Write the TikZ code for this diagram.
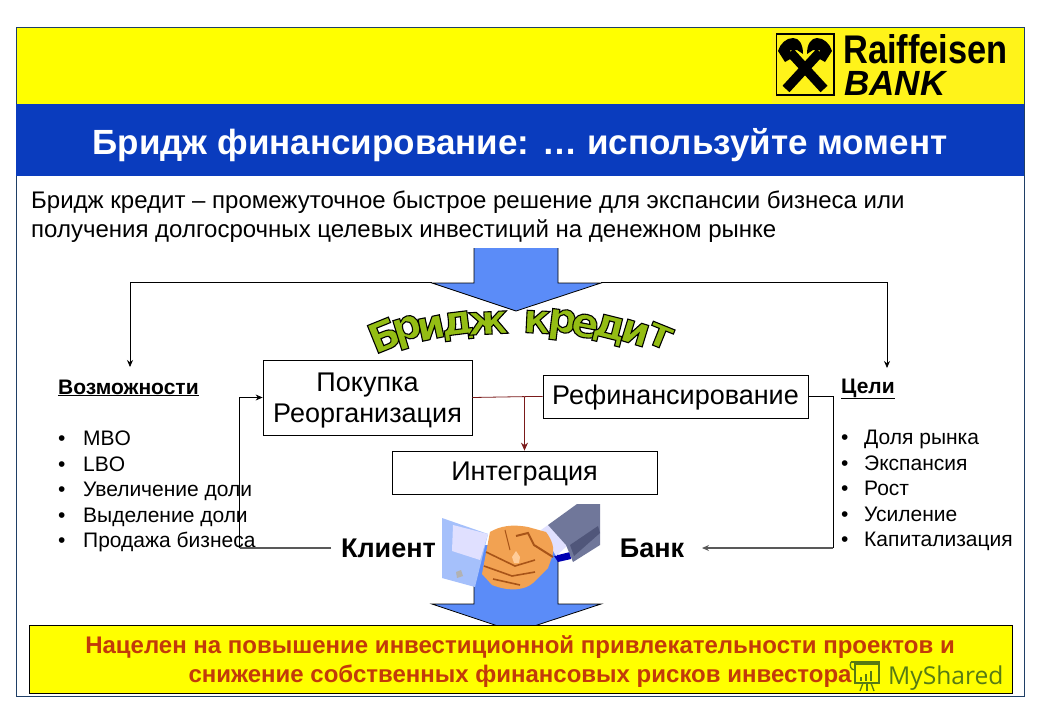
\documentclass[tikz,border=0pt]{standalone}
\usepackage{fontspec}
\usepackage{graphicx}
\setmainfont{Liberation Sans}
\newfontfamily\wordfont{DejaVu Sans}[BoldFont={DejaVu Sans Bold}]
\newfontfamily\markfont{Open Sans}
\usetikzlibrary{arrows.meta,calc}
\definecolor{brYellow}{HTML}{FFFF00}
\definecolor{brLogo}{HTML}{FFF31A}
\definecolor{brBlue}{HTML}{0A3CBE}
\definecolor{brArrow}{HTML}{5B8CF8}
\definecolor{brFrame}{HTML}{1F3F66}
\definecolor{brRed}{HTML}{7A1A1A}
\definecolor{brMsg}{HTML}{C23A0A}
\definecolor{brMark}{HTML}{567A14}
\definecolor{brOrange}{HTML}{F2A252}
\definecolor{brBrown}{HTML}{A85418}
\definecolor{brSleeve}{HTML}{70779A}
\definecolor{brSleeveDk}{HTML}{50567A}
\newcommand{\fsz}[1]{\fontsize{#1}{#1}\selectfont}
\newcommand{\outl}[1]{\special{pdf:code q 2 Tr 1.1 w 0 0 0 RG 0.58 0.74 0.08 rg}#1\special{pdf:code Q}}
\tikzset{
  x=1pt,y=-1pt,
  txt/.style={anchor=base west,inner sep=0pt,font=\fsz{21}},
  boxnode/.style={draw=black,line width=0.8pt,fill=white,inner sep=0pt,align=center,font=\fsz{27}},
  msg/.style={anchor=base,inner sep=0pt,font=\fsz{24}\bfseries,text=brMsg},
  wl/.style={inner sep=0pt,font=\fsz{41}\wordfont\bfseries},
  conn/.style={line width=0.8pt,draw=black},
  tip/.style={-{Stealth[length=7pt,width=6pt]}},
  flowarrow/.style={fill=brArrow},
}
\begin{document}
\begin{tikzpicture}
\useasboundingbox (0,0) rectangle (1040,720);
\fill[white] (0,0) rectangle (1040,720);
% slide
\draw[brFrame,line width=0.8pt] (16,27) rectangle (1024,696);
\fill[brYellow] (17,28) rectangle (1024,104);
\fill[brBlue] (16,104) rectangle (1024,176);
\node[anchor=base,inner sep=0pt,font=\fsz{35}\bfseries,text=white] (title) at (520,154) {Бридж финансирование:  … используйте момент};
% logo
\fill[brLogo] (772,30) rectangle (1020,103);
\draw[black,line width=1.2pt] (776.5,34) rectangle (834,95);
\draw[black,line width=9.5pt] (786,89) -- (820,52);
\draw[black,line width=9.5pt] (824,89) -- (790,52);
\fill[black] (778,51) .. controls (780,44) and (786,38) .. (793,38) .. controls (799,38) and (803,44) .. (803,54) -- (797,50) -- (790,50) -- (792,58) -- (785,62) -- cycle;
\fill[black] (832,51) .. controls (830,44) and (824,38) .. (817,38) .. controls (811,38) and (807,44) .. (807,54) -- (813,50) -- (820,50) -- (818,58) -- (825,62) -- cycle;
\node[anchor=base west,inner sep=0pt,font=\fsz{40}\bfseries] (rf) at (843,63) {\scalebox{0.86}[1]{Raiffeisen}};
\node[anchor=base west,inner sep=0pt,font=\fsz{35}\bfseries\itshape] (bk) at (844,95) {BANK};
% intro
\node[txt,font=\fsz{24}] (intro1) at (31,208) {Бридж кредит – промежуточное быстрое решение для экспансии бизнеса или};
\node[txt,font=\fsz{24}] (intro2) at (31,237) {получения долгосрочных целевых инвестиций на денежном рынке};
% top arrow
\coordinate (tl) at (432,282.5);
\coordinate (tr) at (601,282.5);
\fill[flowarrow] (474,248) -- (558,248) -- (558,283) -- (601,283) -- (516,311) -- (432,283) -- (474,283) -- cycle;
\draw[conn] (474,248) -- (474,283) -- (432,283) -- (516,311) -- (601,283) -- (558,283) -- (558,248);
% left/right targets
\coordinate (lt) at (130,367);
\coordinate (rt) at (887,368);
\draw[conn,tip] (tl) -| (lt);
\draw[conn,tip] (tr) -| (rt);
% curved word
\node[wl,rotate=22] (w1) at (384,335) {\outl{Б}};
\node[wl,rotate=17] (w2) at (408,332) {\outl{р}};
\node[wl,rotate=12] (w3) at (431,328) {\outl{и}};
\node[wl,rotate=7] (w4) at (458,326) {\outl{д}};
\node[wl,rotate=3] (w5) at (488,323) {\outl{ж}};
\node[wl,rotate=-3] (w6) at (537,322) {\outl{к}};
\node[wl,rotate=-7] (w7) at (562,325) {\outl{р}};
\node[wl,rotate=-11] (w8) at (585,326) {\outl{е}};
\node[wl,rotate=-14] (w9) at (609,330) {\outl{д}};
\node[wl,rotate=-17] (w10) at (635,333) {\outl{и}};
\node[wl,rotate=-22] (w11) at (660,336) {\outl{т}};
% boxes
\node[boxnode,minimum width=209pt,minimum height=75pt] (pok) at (367.5,397.5) {\raisebox{-3pt}{\rule{0pt}{25.5pt}Покупка}\\[4pt]\raisebox{-3pt}{Реорганизация}};
\node[boxnode,minimum width=265pt,minimum height=43pt,text height=20pt,text depth=5pt] (ref) at (675.5,396.5) {Рефинансирование};
\node[boxnode,minimum width=265pt,minimum height=43pt,text height=20pt,text depth=5pt] (int) at (524.5,472.5) {Интеграция};
% lists
\node[txt,font=\fsz{21}\bfseries] (vz) at (58,394) {\underline{Возможности}};
\node[txt] (b1) at (58,445) {•};\node[txt] (l1) at (83,445) {MBO};
\node[txt] (b2) at (58,471) {•};\node[txt] (l2) at (83,471) {LBO};
\node[txt] (b3) at (58,496) {•};\node[txt] (l3) at (83,496) {Увеличение доли};
\node[txt] (b4) at (58,522) {•};\node[txt] (l4) at (83,522) {Выделение доли};
\node[txt] (b5) at (58,547) {•};\node[txt] (l5) at (83,547) {Продажа бизнеса};
\node[txt,font=\fsz{21}\bfseries] (cl) at (841,393) {\underline{Цели}};
\node[txt] (c1) at (841,444) {•};\node[txt] (r1) at (864,444) {Доля рынка};
\node[txt] (c2) at (841,470) {•};\node[txt] (r2) at (864,470) {Экспансия};
\node[txt] (c3) at (841,495) {•};\node[txt] (r3) at (864,495) {Рост};
\node[txt] (c4) at (841,521) {•};\node[txt] (r4) at (864,521) {Усиление};
\node[txt] (c5) at (841,546) {•};\node[txt] (r5) at (864,546) {Капитализация};
% connectors between boxes
\coordinate (jn) at ($(int.north)+(0,-54)$);
\draw[brRed,line width=0.8pt] (pok.east) -- (jn);
\draw[brRed,line width=0.8pt] (jn) -- (ref.west);
\draw[brRed,line width=0.9pt,-{Stealth[length=8pt,width=7pt]}] (jn) -- (int.north);
% client and bank
\node[anchor=base,inner sep=0pt,font=\fsz{27}\bfseries] (kl) at (388.5,557) {Клиент};
\node[anchor=base,inner sep=0pt,font=\fsz{27}\bfseries] (bn) at (652,557) {Банк};
\coordinate (kl0) at (331,548);
\coordinate (kl1) at (239.5,548);
\coordinate (bn0) at (702,548);
\coordinate (rf1) at (833,548);
\draw[gray!70!black,line width=1.2pt] (kl0) -- (kl1);
\draw[conn,tip] (kl1) |- (pok.west);
\draw[conn] (ref.east) -| (rf1);
\draw[gray!70!black,line width=1.2pt,tip] (rf1) -- (bn0);
% bottom arrow
\fill[flowarrow] (474,545) -- (558,545) -- (558,604) -- (601,604) -- (516,632) -- (432,604) -- (474,604) -- cycle;
\draw[conn] (474,585) -- (474,604) -- (432,604) -- (516,632) -- (601,604) -- (558,604) -- (558,560);
% handshake
\fill[blue!70!black] (554,556) -- (570,552) -- (571,559) -- (558,562) -- cycle;
\fill[brArrow!55!white] (442,518) -- (488,534) -- (475,587) -- (442,578) -- cycle;
\fill[blue!12!white] (453,525) -- (488,534) -- (480,560) -- (452,551) -- cycle;
\fill[gray!60] (456,572) -- (461,570) -- (463,576) -- (457,578) -- cycle;
\fill[blue!12!white] (541,530) -- (548,525) -- (567,546) -- (556,556) -- cycle;
\fill[brSleeve] (548,525) -- (577,504) -- (600,504) -- (600,545) -- (573,562) -- (566,545) -- cycle;
\fill[brSleeveDk] (570,545) -- (598,526) -- (600,533) -- (574,556) -- cycle;
\fill[brOrange] (490,532) .. controls (500,526) and (512,524) .. (528,527) -- (546,532) .. controls (552,540) and (555,548) .. (552,557) -- (548,568) -- (533,583) .. controls (525,590) and (510,592) .. (492,585) -- (482,574) -- cycle;
\fill[orange!40!white] (512,557) -- (516,551) -- (520,557) -- (519,563) -- (514,563) -- cycle;
\draw[brBrown,line width=1.6pt] (486,552) -- (515,566) -- (535,560);
\draw[brBrown,line width=1.6pt] (484,566) -- (512,576) -- (535,572);
\draw[brBrown,line width=1.6pt] (493,579) -- (520,585);
\draw[brBrown,line width=2pt] (516,536) -- (528,533) -- (534,545) -- (553,557);
\draw[brBrown,line width=1pt] (505,530) -- (510,550);
% bottom message
\node[draw=black,line width=0.9pt,fill=brYellow,minimum width=983pt,minimum height=68pt,inner sep=0pt] (mbox) at (520.5,659) {};
\node[msg] (m1) at (520,653) {Нацелен на повышение инвестиционной привлекательности проектов и};
\node[msg] (m2) at (520,682) {снижение собственных финансовых рисков инвестора};
% watermark
\begin{scope}[brMark,line width=1.3pt]
\draw (851,662) -- (880,662);
\draw (855,664) rectangle (879,683);
\draw (851,662) .. controls (849,666) and (851,670) .. (855,670);
\fill (860,677) rectangle (862,681);
\fill (865,674) rectangle (867,681);
\fill (870,671) rectangle (872,681);
\draw (863,683) -- (860,691);
\draw (867,683) -- (867,691);
\draw (871,683) -- (874,691);
\end{scope}
\node[anchor=base west,inner sep=0pt,font=\fsz{24.6}\markfont,text=brMark] (mark) at (888,684) {MyShared};
\end{tikzpicture}
\end{document}
